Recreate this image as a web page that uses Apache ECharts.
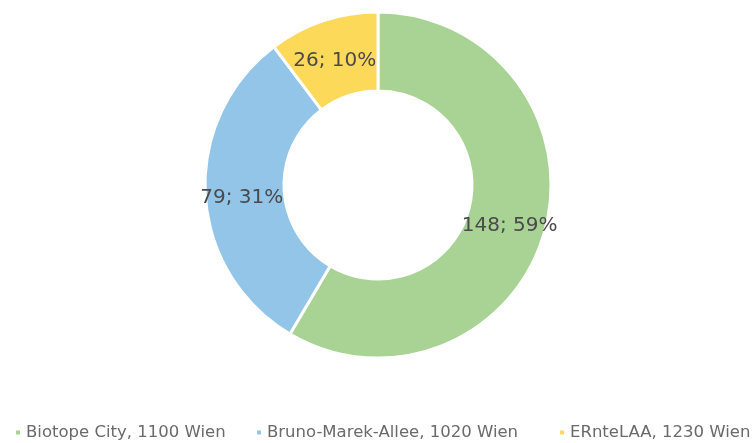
<!DOCTYPE html>
<html><head><meta charset="utf-8">
<script src="https://cdn.jsdelivr.net/npm/echarts@6/dist/echarts.min.js"></script>
<style>html,body{margin:0;padding:0;background:#fff}#c{width:756px;height:443px}</style>
</head><body><div id="c"></div>
<script>
const categories = ["Biotope City, 1100 Wien", "Bruno-Marek-Allee, 1020 Wien", "ERnteLAA, 1230 Wien"];
const values = [148, 79, 26];
const colors = ["#a8d394", "#92c5e8", "#fdd95a"];
const legendLefts = [9, 250, 553];

const chart = echarts.init(document.getElementById('c'));
chart.setOption({
  animation: false,
  legend: categories.map((n, i) => ({
    top: 419,
    left: legendLefts[i],
    itemWidth: 6,
    itemHeight: 6,
    icon: 'rect',
    textStyle: { color: '#6a6a6a', fontSize: 16.5, fontFamily: 'DejaVu Sans' },
    data: [n]
  })),
  series: [{
    type: 'pie',
    center: [378, 185],
    radius: [94, 173],
    startAngle: 90,
    clockwise: true,
    percentPrecision: 0,
    itemStyle: { borderColor: '#fff', borderWidth: 3 },
    label: {
      position: 'inside',
      formatter: '{c}; {d}%',
      color: '#4a4a4a',
      fontSize: 20,
      fontFamily: 'DejaVu Sans',
      offset: [0, 5]
    },
    labelLine: { show: false },
    data: categories.map((n, i) => ({ name: n, value: values[i], itemStyle: { color: colors[i] } }))
  }]
});
</script></body></html>
